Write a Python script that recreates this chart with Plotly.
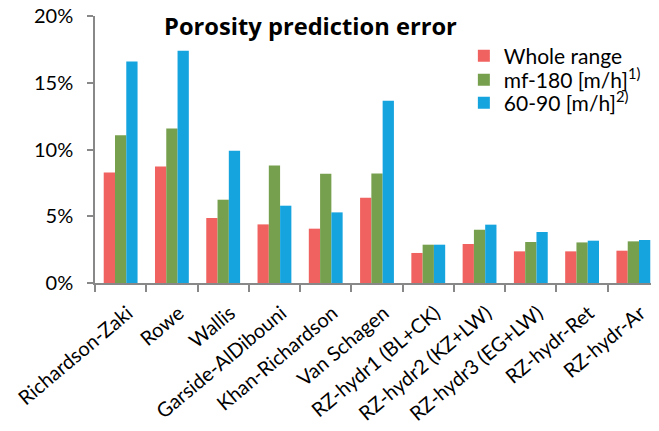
import plotly.graph_objects as go

categories = ["Richardson-Zaki", "Rowe", "Wallis", "Garside-AlDibouni", "Khan-Richardson",
              "Van Schagen", "RZ-hydr1 (BL+CK)", "RZ-hydr2 (KZ+LW)", "RZ-hydr3 (EG+LW)",
              "RZ-hydr-Ret", "RZ-hydr-Ar"]
whole_range = [0.0828, 0.0873, 0.0487, 0.0439, 0.0407, 0.0639, 0.0225, 0.0292, 0.0237, 0.0237, 0.0242]
mf_180 = [0.1106, 0.1158, 0.0624, 0.0881, 0.0819, 0.0821, 0.0287, 0.0399, 0.0307, 0.0304, 0.0312]
v60_90 = [0.1660, 0.1740, 0.0991, 0.0579, 0.0529, 0.1366, 0.0287, 0.0437, 0.0382, 0.0317, 0.0322]
series_names = ["Whole range", "mf-180 [m/h]<sup>1)</sup>", "60-90 [m/h]<sup>2)</sup>"]
colors = ["#F0625F", "#77A04E", "#16A4DF"]

FONT = "Lato"
# page body has an 8px margin, so the figure is 8px smaller than the window
W, H = 651, 423
L, T, B = 87, 8, 148
PH = H - T - B

legend_ids = ["legend", "legend2", "legend3"]
row_centers = [48, 72, 95]  # figure pixel rows of legend entries

fig = go.Figure()
for name, vals, c, lg in zip(series_names, [whole_range, mf_180, v60_90], colors, legend_ids):
    fig.add_trace(go.Bar(x=categories, y=vals, name=name, legend=lg,
                         marker=dict(color=c, line=dict(width=0))))

legend_common = dict(x=0.654, xanchor="left", yanchor="middle", bgcolor="rgba(0,0,0,0)",
                     font=dict(family=FONT, size=21), itemwidth=30)
layout_legends = {}
for lg, yc in zip(legend_ids, row_centers):
    layout_legends[lg] = dict(legend_common, y=(T + PH - yc) / PH)

fig.update_layout(
    width=W, height=H,
    margin=dict(l=L, r=0, t=T, b=B, autoexpand=False),
    paper_bgcolor="white", plot_bgcolor="white",
    barmode="group", bargap=0.34, bargroupgap=0,
    font=dict(family=FONT, size=21, color="#000000"),
    title=dict(text="<b>Porosity prediction error</b>", font=dict(family="Open Sans", size=23.7, color="#000"),
               xref="paper", x=0.382, xanchor="center", yref="container", y=1 - 19 / H, yanchor="middle"),
    showlegend=True,
    **layout_legends,
)
fig.update_yaxes(range=[0, 0.2], tickvals=[0, 0.05, 0.1, 0.15, 0.2], tickformat=".0%",
                 showgrid=False, showline=True, linecolor="#888888", linewidth=1.5,
                 ticks="outside", ticklen=6, tickcolor="#888888", tickwidth=1.5, ticklabelstandoff=10,
                 ticklabeloverflow="allow",
                 tickfont=dict(family=FONT, size=20), zeroline=False, automargin=False)
fig.update_xaxes(showgrid=False, showline=True, linecolor="#888888", linewidth=1.5,
                 ticks="outside", ticklen=7, tickcolor="#888888", tickwidth=1.5, tickson="boundaries",
                 tickangle=-40, ticklabelstandoff=9, ticklabelshift=7, ticklabeloverflow="allow",
                 tickfont=dict(family=FONT, size=20), automargin=False)
fig.write_html("out.html")
